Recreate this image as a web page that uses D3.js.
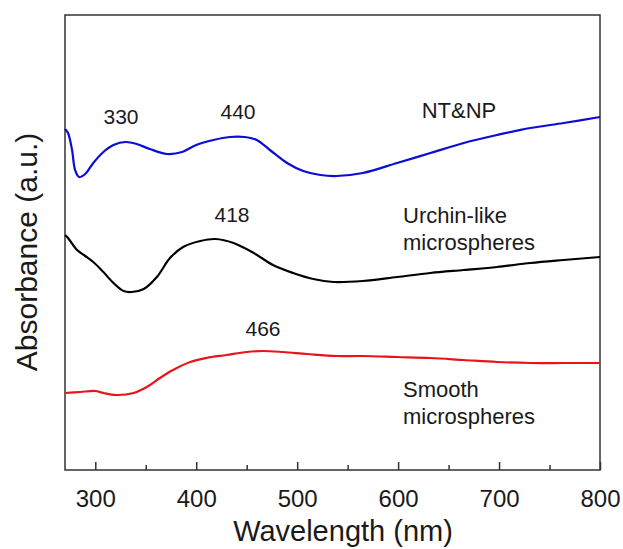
<!DOCTYPE html>
<html>
<head>
<meta charset="utf-8">
<script src="https://cdn.jsdelivr.net/npm/d3@7"></script>
<style>
  body { margin: 0; background: #fff; }
  text { font-family: "Liberation Sans", Arial, sans-serif; fill: #1a1a1a; }
</style>
</head>
<body>
<div id="chart"></div>
<script>
// Set the size of the picture and the plot box
const width = 623;
const height = 549;
const margin = { top: 15, right: 23, bottom: 79, left: 65 };

// Wavelength (nm) and absorbance (a.u., offset per sample)
const ntWave = [270, 273, 277, 280, 284, 290, 298, 308, 318, 330, 341, 354, 371, 386, 400, 417, 433, 448, 460, 473, 490, 506, 523, 539, 565, 599, 632, 665, 698, 731, 764, 800];
const ntAbs = [3.41, 3.37, 3.20, 3.00, 2.93, 2.96, 3.07, 3.18, 3.25, 3.28, 3.26, 3.21, 3.16, 3.18, 3.25, 3.30, 3.33, 3.33, 3.30, 3.20, 3.07, 2.99, 2.95, 2.94, 2.97, 3.07, 3.17, 3.27, 3.35, 3.42, 3.47, 3.53];

const urchinWave = [270, 273, 282, 290, 298, 308, 318, 328, 336, 348, 361, 374, 387, 404, 419, 437, 457, 476, 496, 516, 536, 565, 599, 632, 665, 698, 731, 764, 800];
const urchinAbs = [2.35, 2.32, 2.20, 2.14, 2.08, 1.98, 1.87, 1.79, 1.78, 1.81, 1.93, 2.12, 2.23, 2.29, 2.31, 2.27, 2.17, 2.05, 1.97, 1.91, 1.88, 1.89, 1.93, 1.97, 2.00, 2.03, 2.07, 2.10, 2.13];

const smoothWave = [270, 285, 300, 308, 321, 338, 351, 364, 377, 394, 410, 430, 450, 466, 486, 510, 539, 565, 599, 632, 665, 698, 731, 764, 800];
const smoothAbs = [0.77, 0.78, 0.79, 0.77, 0.75, 0.77, 0.83, 0.92, 1.00, 1.08, 1.12, 1.15, 1.18, 1.19, 1.18, 1.16, 1.14, 1.14, 1.13, 1.12, 1.10, 1.08, 1.07, 1.07, 1.07];

// Peak labels and sample names
const peakLabels = ["330", "440", "418", "466"];
const sampleNames = [["NT&NP"], ["Urchin-like", "microspheres"], ["Smooth", "microspheres"]];

const majorTicks = [300, 400, 500, 600, 700, 800];
const minorTicks = [350, 450, 550, 650, 750];

const svg = d3.select("#chart")
  .append("svg")
  .attr("width", width)
  .attr("height", height);

const x = d3.scaleLinear()
  .domain([270, 800])
  .range([margin.left, width - margin.right]);

const y = d3.scaleLinear()
  .domain([0, 4.55])
  .range([height - margin.bottom, margin.top]);

// plot frame
svg.append("rect")
  .attr("x", margin.left)
  .attr("y", margin.top)
  .attr("width", width - margin.left - margin.right)
  .attr("height", height - margin.top - margin.bottom)
  .attr("fill", "none")
  .attr("stroke", "#333")
  .attr("stroke-width", 1.5);

// bottom axis, ticks point inward
const xAxis = svg.append("g")
  .attr("transform", "translate(0," + (height - margin.bottom) + ")")
  .call(d3.axisBottom(x).tickValues(majorTicks).tickSize(-8).tickPadding(20).tickFormat(d3.format("d")));

xAxis.select(".domain").remove();
xAxis.selectAll("line").attr("stroke", "#333").attr("stroke-width", 1.5);
xAxis.selectAll("text")
  .style("font-size", "24px")
  .attr("fill", "#1a1a1a")
  .style("font-family", "'Liberation Sans', Arial, sans-serif");

const xMinor = svg.append("g")
  .attr("transform", "translate(0," + (height - margin.bottom) + ")")
  .call(d3.axisBottom(x).tickValues(minorTicks).tickSize(-5).tickFormat(""));

xMinor.select(".domain").remove();
xMinor.selectAll("line").attr("stroke", "#333").attr("stroke-width", 1.5);

// the three spectra
const line = d3.line()
  .x(function(d) { return x(d[0]); })
  .y(function(d) { return y(d[1]); })
  .curve(d3.curveCatmullRom.alpha(0.5));

const series = [
  { wave: ntWave, abs: ntAbs, color: "#0c0cd6" },
  { wave: urchinWave, abs: urchinAbs, color: "#000000" },
  { wave: smoothWave, abs: smoothAbs, color: "#e8141a" }
];

svg.selectAll(".spectrum")
  .data(series)
  .enter()
  .append("path")
  .attr("class", "spectrum")
  .attr("d", function(s) { return line(d3.zip(s.wave, s.abs)); })
  .attr("fill", "none")
  .attr("stroke", function(s) { return s.color; })
  .attr("stroke-width", 2.2)
  .attr("stroke-linejoin", "round");

// peak position labels
const peakPos = [[121, 124], [238, 119], [232, 222], [263, 336]];

svg.selectAll(".peak")
  .data(peakLabels)
  .enter()
  .append("text")
  .attr("class", "peak")
  .attr("x", function(d, i) { return peakPos[i][0]; })
  .attr("y", function(d, i) { return peakPos[i][1]; })
  .attr("text-anchor", "middle")
  .style("font-size", "21px")
  .text(function(d) { return d; });

// sample names
const namePos = [[459, 118, "middle"], [403, 223, "start"], [403, 397, "start"]];

sampleNames.forEach(function(lines, i) {
  const t = svg.append("text")
    .attr("x", namePos[i][0])
    .attr("y", namePos[i][1])
    .attr("text-anchor", namePos[i][2])
    .style("font-size", "22px");
  lines.forEach(function(s, j) {
    t.append("tspan")
      .attr("x", namePos[i][0])
      .attr("dy", j === 0 ? 0 : 27)
      .text(s);
  });
});

// axis titles
svg.append("text")
  .attr("x", 343)
  .attr("y", 541)
  .attr("text-anchor", "middle")
  .style("font-size", "29px")
  .text("Wavelength (nm)");

svg.append("text")
  .attr("transform", "translate(37,252) rotate(-90)")
  .attr("text-anchor", "middle")
  .style("font-size", "30px")
  .text("Absorbance (a.u.)");
</script>
</body>
</html>
